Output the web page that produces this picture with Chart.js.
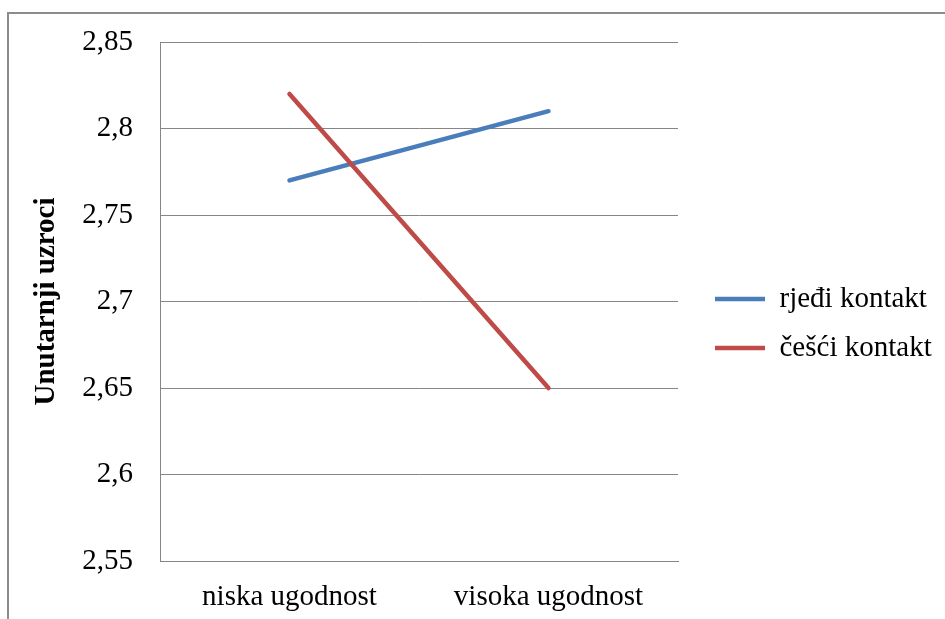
<!DOCTYPE html>
<html>
<head>
<meta charset="utf-8">
<script src="https://cdn.jsdelivr.net/npm/chart.js@4"></script>
<style>
  body { margin: 0; background: #fff; }
  #frame {
    position: absolute; left: 7px; top: 12px; width: 1000px; height: 700px;
    border-left: 2px solid #8c8c8c; border-top: 2px solid #8c8c8c;
  }
  #chart { position: absolute; left: 0; top: 0; }
</style>
</head>
<body>
<div id="frame"></div>
<canvas id="chart" width="945" height="619"></canvas>
<script>
// podaci s grafa
const categories = ['niska ugodnost', 'visoka ugodnost'];
const rjedjiKontakt = [2.77, 2.81];
const cesciKontakt = [2.82, 2.65];
const seriesNames = ['rjeđi kontakt', 'češći kontakt'];
const yAxisTitle = 'Unutarnji uzroci';
const yMin = 2.55, yMax = 2.85, yStep = 0.05;

const serif = '"Liberation Serif", "Times New Roman", serif';
Chart.defaults.font.family = serif;
Chart.defaults.color = '#000';

const gridColor = '#868686';

// legenda: malo udesno, i bez rezanja teksta na desnom rubu
const legendShift = {
    id: 'legendShift',
    afterLayout(chart) {
        const lg = chart.legend;
        if (!lg) return;
        lg.left += 17;
        lg.right = chart.width;
        lg.top -= 5;
        lg.bottom -= 5;
        lg.width = lg.right - lg.left;
    }
};

const ctx = document.getElementById('chart').getContext('2d');
new Chart(ctx, {
    type: 'line',
    data: {
        labels: categories,
        datasets: [{
            label: seriesNames[0],
            data: rjedjiKontakt,
            borderColor: '#4a7ebb',
            backgroundColor: '#4a7ebb',
            borderWidth: 4.5,
            borderCapStyle: 'round',
            pointRadius: 0,
            order: 1
        }, {
            label: seriesNames[1],
            data: cesciKontakt,
            borderColor: '#be4b48',
            backgroundColor: '#be4b48',
            borderWidth: 4.5,
            borderCapStyle: 'round',
            pointRadius: 0,
            order: 0
        }]
    },
    options: {
        responsive: false,
        animation: false,
        layout: { padding: { left: 0, top: 38, right: 41, bottom: 0 } },
        plugins: {
            tooltip: { enabled: false },
            legend: {
                position: 'right',
                labels: {
                    usePointStyle: true,
                    pointStyle: 'line',
                    pointStyleWidth: 50,
                    padding: 20,
                    font: { size: 29 },
                    sort: (a, b) => a.datasetIndex - b.datasetIndex
                }
            }
        },
        scales: {
            x: {
                offset: true,
                grid: { display: false },
                border: { display: true, color: gridColor, width: 1 },
                ticks: { padding: 11, font: { size: 29 }, maxRotation: 0 },
                afterFit: (scale) => { scale.height = 58; }
            },
            y: {
                min: yMin,
                max: yMax,
                grid: { color: gridColor, lineWidth: 1, drawTicks: false },
                border: { display: true, color: gridColor, width: 1 },
                ticks: {
                    stepSize: yStep,
                    padding: 27,
                    font: { size: 29 },
                    callback: (v) => String(Number(v.toFixed(2))).replace('.', ',')
                },
                title: {
                    display: true,
                    text: yAxisTitle,
                    font: { size: 29, weight: 'bold' },
                    padding: { top: 29, bottom: 0 }
                },
                afterFit: (scale) => {
                    scale.width = 160;
                    scale.paddingTop = 42;
                }
            }
        }
    },
    plugins: [legendShift]
});
</script>
</body>
</html>
